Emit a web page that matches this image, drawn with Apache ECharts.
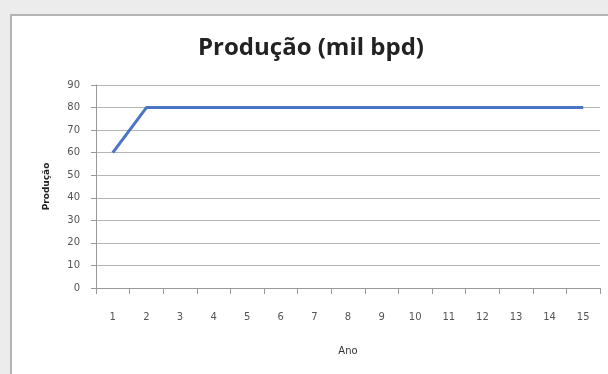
<!DOCTYPE html>
<html>
<head>
<meta charset="utf-8">
<script src="https://cdn.jsdelivr.net/npm/echarts@6/dist/echarts.min.js"></script>
<style>
  html, body { margin: 0; padding: 0; background: #ececec; }
  #frame { position: absolute; left: 10px; top: 14px; width: 620px; height: 380px; background: #fff; border: 2px solid #b4b4b4; }
  #main { position: absolute; left: 0; top: 0; width: 608px; height: 374px; }
</style>
</head>
<body>
<div id="frame"></div>
<div id="main"></div>
<script>
// anos e producao (mil bpd)
var anos = ['1','2','3','4','5','6','7','8','9','10','11','12','13','14','15'];
var producao = [60,80,80,80,80,80,80,80,80,80,80,80,80,80,80];

var myChart = echarts.init(document.getElementById('main'));
var option = {
  title: {
    text: 'Produção (mil bpd)',
    left: 193,
    top: 31,
    textStyle: { fontFamily: 'Open Sans', fontWeight: 'bold', fontSize: 24, color: '#222' }
  },
  grid: { left: 96, right: 8, top: 85, bottom: 86 },
  xAxis: {
    type: 'category',
    data: anos,
    boundaryGap: true,
    name: 'Ano',
    nameLocation: 'middle',
    nameGap: 58,
    nameTextStyle: { fontSize: 10, color: '#333', fontFamily: 'DejaVu Sans' },
    axisLine: { lineStyle: { color: '#999' } },
    axisTick: { show: true, length: 6, lineStyle: { color: '#999' } },
    axisLabel: { color: '#555', fontSize: 10, margin: 24, fontFamily: 'DejaVu Sans' }
  },
  yAxis: {
    type: 'value',
    min: 0,
    max: 90,
    interval: 10,
    name: 'Produção',
    nameLocation: 'middle',
    nameGap: 45,
    nameTextStyle: { fontSize: 9, fontWeight: 'bold', color: '#222', fontFamily: 'DejaVu Sans' },
    axisLine: { show: true, lineStyle: { color: '#999' } },
    axisTick: { show: true, length: 5, lineStyle: { color: '#999' } },
    axisLabel: { color: '#555', fontSize: 10, margin: 16, fontFamily: 'DejaVu Sans' },
    splitLine: { lineStyle: { color: '#b4b4b4' } }
  },
  series: [
    {
      name: 'Produção',
      type: 'line',
      data: producao,
      symbol: 'none',
      lineStyle: { color: '#4a74c4', width: 3 }
    }
  ]
};
myChart.setOption(option);
</script>
</body>
</html>
